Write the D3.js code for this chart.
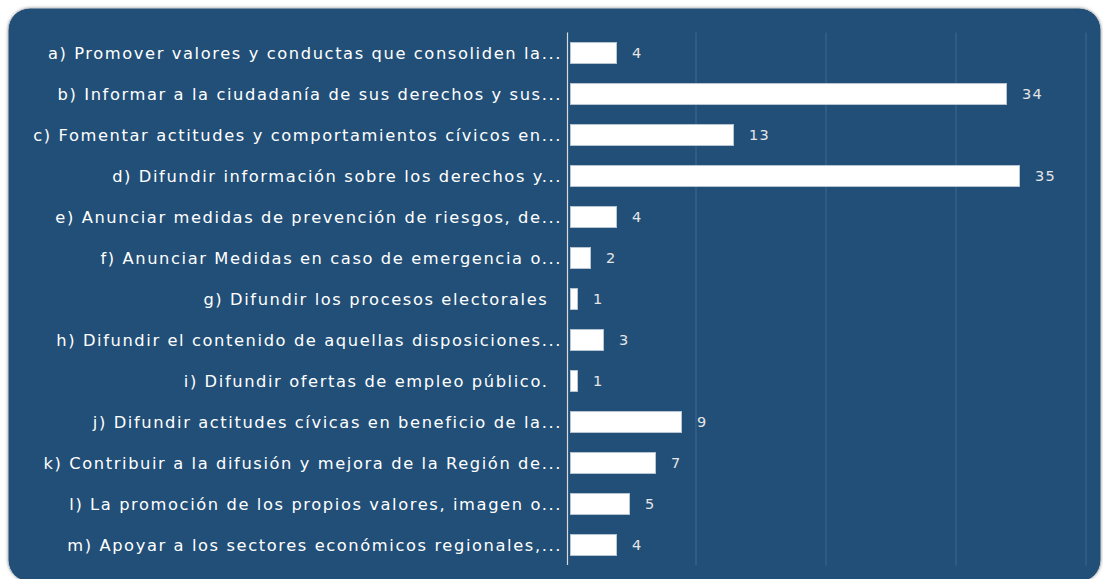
<!DOCTYPE html>
<html>
<head>
<meta charset="utf-8">
<script src="https://cdn.jsdelivr.net/npm/d3@7"></script>
<style>
  html, body { margin: 0; padding: 0; background: #fff; }
  svg { display: block; }
  .cat { white-space: pre; }
</style>
</head>
<body>
<svg id="viz"></svg>
<script>
const WIDTH = 1103;
const HEIGHT = 579;

// categories as shown on the axis (truncated like the original)
const categories = [
  "a) Promover valores y conductas que consoliden la...",
  "b) Informar a la ciudadanía de sus derechos y sus...",
  "c) Fomentar actitudes y comportamientos cívicos en...",
  "d) Difundir información sobre los derechos y...",
  "e) Anunciar medidas de prevención de riesgos, de...",
  "f) Anunciar Medidas en caso de emergencia o...",
  "g) Difundir los procesos electorales  ",
  "h) Difundir el contenido de aquellas disposiciones...",
  "i) Difundir ofertas de empleo público.  ",
  "j) Difundir actitudes cívicas en beneficio de la...",
  "k) Contribuir a la difusión y mejora de la Región de...",
  "l) La promoción de los propios valores, imagen o...",
  "m) Apoyar a los sectores económicos regionales,..."
];
const values = [4, 34, 13, 35, 4, 2, 1, 3, 1, 9, 7, 5, 4];
const xTicks = [10, 20, 30, 40];

const PANEL = { x: 8, y: 8, w: 1093, h: 574, r: 22 };
const MARGIN = { top: 32.5, left: 566, right: 17, bottom: 13.5 };

const svg = d3.select("#viz").attr("width", WIDTH).attr("height", HEIGHT);

// drop shadow + panel
const defs = svg.append("defs");
const f = defs.append("filter").attr("id", "sh").attr("x", "-5%").attr("y", "-5%").attr("width", "110%").attr("height", "110%");
f.append("feDropShadow").attr("dx", 0).attr("dy", 0).attr("stdDeviation", 1.5).attr("flood-color", "#999").attr("flood-opacity", 0.7);

svg.append("rect")
  .attr("x", PANEL.x).attr("y", PANEL.y)
  .attr("width", PANEL.w).attr("height", PANEL.h)
  .attr("rx", PANEL.r).attr("ry", PANEL.r)
  .attr("fill", "#204f78")
  .attr("stroke", "#d0d0d0")
  .attr("stroke-width", 1)
  .attr("filter", "url(#sh)");

const x = d3.scaleLinear().domain([0, 40]).range([MARGIN.left, 1086]);
const y = d3.scaleBand()
  .domain(categories)
  .range([MARGIN.top, MARGIN.top + 41 * categories.length])
  .paddingInner(0.49)
  .paddingOuter(0.245);

const plotTop = MARGIN.top;
const plotBottom = MARGIN.top + 41 * categories.length;

// gridlines
svg.append("g").selectAll("line")
  .data(xTicks)
  .join("line")
  .attr("x1", d => x(d)).attr("x2", d => x(d))
  .attr("y1", plotTop).attr("y2", plotBottom)
  .attr("stroke", "#3d6890")
  .attr("stroke-width", 1);

// bars
const barLeft = x(0) + 4.5;
svg.append("g").selectAll("rect")
  .data(values)
  .join("rect")
  .attr("x", barLeft)
  .attr("y", (d, i) => y(categories[i]))
  .attr("width", d => Math.max(0, x(d) - 1.5 - barLeft))
  .attr("height", y.bandwidth())
  .attr("fill", "#ffffff")
  .attr("stroke", "#b9c6d3")
  .attr("stroke-width", 1);

// value labels
svg.append("g").selectAll("text")
  .data(values)
  .join("text")
  .attr("x", d => x(d) + 14)
  .attr("y", (d, i) => y(categories[i]) + y.bandwidth() / 2)
  .attr("dy", "0.36em")
  .attr("font-family", "'DejaVu Sans', sans-serif")
  .attr("font-size", 14.5)
  .attr("letter-spacing", 1.2)
  .attr("fill", "#e6e6e6")
  .text(d => d);

// category axis line
svg.append("line")
  .attr("x1", x(0) + 1.5).attr("x2", x(0) + 1.5)
  .attr("y1", plotTop).attr("y2", plotBottom - 0.5)
  .attr("stroke", "#d9d9d9")
  .attr("stroke-width", 1.2);

// category labels
svg.append("g").selectAll("text")
  .data(categories)
  .join("text")
  .attr("class", "cat")
  .attr("x", x(0) - 4)
  .attr("y", d => y(d) + y.bandwidth() / 2)
  .attr("dy", "0.36em")
  .attr("text-anchor", "end")
  .attr("font-family", "'DejaVu Sans', sans-serif")
  .attr("font-size", 16.3)
  .attr("letter-spacing", 1.6)
  .attr("fill", "#ffffff")
  .text(d => d);
</script>
</body>
</html>
